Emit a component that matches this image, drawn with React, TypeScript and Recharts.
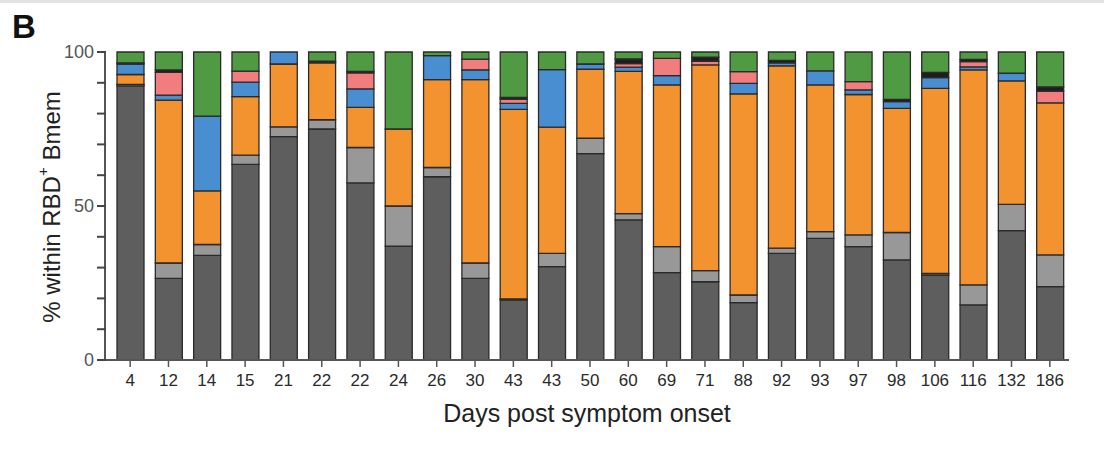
import React from 'react';
import { BarChart, Bar, XAxis, YAxis } from 'recharts';

const days = ['4','12','14','15','21','22','22','24','26','30','43','43','50','60','69','71','88','92','93','97','98','106','116','132','186'];
const darkGray = [89, 26.5, 34, 63.5, 72.5, 75, 57.5, 37, 59.5, 26.5, 19.5, 30.3, 67, 45.5, 28.4, 25.4, 18.6, 34.6, 39.5, 36.8, 32.5, 27.6, 17.9, 42, 23.8];
const lightGray = [0.5, 5, 3.5, 3, 3.2, 3, 11.5, 13, 3, 5, 0.3, 4.3, 5, 2, 8.4, 3.6, 2.5, 1.7, 2.2, 3.8, 8.9, 0.5, 6.5, 8.5, 10.3];
const orange = [3.2, 52.9, 17.4, 19, 20.4, 18.5, 13, 25, 28.5, 59.5, 61.6, 41, 22.4, 46.2, 52.5, 66.8, 65.3, 59.2, 47.6, 45.6, 40.3, 60.1, 69.8, 40.1, 49.4];
const blue = [3.4, 1.6, 24.3, 4.7, 3.9, 0, 6, 0, 7.8, 3.2, 1.9, 18.7, 1.7, 1.4, 3, 0, 3.4, 1, 4.6, 1.5, 2.2, 3.5, 1, 2.5, 0];
const red = [0, 7.4, 0, 3.6, 0, 0, 5.2, 0, 0, 3.5, 1.4, 0, 0, 1.1, 5.6, 1.2, 3.8, 0, 0, 2.7, 0, 0, 1.7, 0, 3.8];
const black = [0.4, 0.8, 0, 0, 0, 0.5, 0.5, 0, 0, 0, 0.6, 0, 0, 1.6, 0, 1.3, 0, 0.8, 0, 0, 0.7, 1.7, 0.7, 0, 1.4];
const green = [3.5, 5.8, 20.8, 6.2, 0, 3, 6.3, 25, 1.2, 2.3, 14.7, 5.7, 3.9, 2.2, 2.1, 1.7, 6.4, 2.7, 6.1, 9.6, 15.4, 6.6, 2.4, 6.9, 11.3];
const yTicks = [0, 10, 20, 30, 40, 50, 60, 70, 80, 90, 100];
const yLabels = [0, 50, 100];

const data = days.map((d, i) => ({
  id: 'c' + i,
  day: d,
  darkGray: darkGray[i],
  lightGray: lightGray[i],
  orange: orange[i],
  blue: blue[i],
  red: red[i],
  black: black[i],
  green: green[i],
}));

const series = [
  { key: 'darkGray', color: '#5e5e5e' },
  { key: 'lightGray', color: '#989898' },
  { key: 'orange', color: '#f39330' },
  { key: 'blue', color: '#4a8ed2' },
  { key: 'red', color: '#f27d7f' },
  { key: 'black', color: '#1e1e1e' },
  { key: 'green', color: '#4f9a43' },
];

const FONT = "'Liberation Sans', Arial, sans-serif";

const YTick = (props: any) => {
  const { x, y, payload } = props;
  const v = Number(payload.value);
  return (
    <g>
      <path d={`M${x + 1},${y}H${x + 10}`} stroke="#444" strokeWidth={2} fill="none" />
      {yLabels.includes(v) ? (
        <text x={x - 2} y={y} textAnchor="end" dominantBaseline="central" fill="#555" fontSize={18} fontFamily={FONT}>
          {v}
        </text>
      ) : null}
    </g>
  );
};

export default function App() {
  return (
    <div style={{ position: 'absolute', left: 0, top: 0, width: 1104, height: 450, background: '#fff', fontFamily: FONT }}>
      <div style={{ position: 'absolute', left: 0, top: 0, width: 1104, height: 3, background: '#e2e2e2' }} />
      <div style={{ position: 'absolute', left: 12, top: 8, fontSize: 33, fontWeight: 'bold', fontFamily: FONT, color: '#111' }}>B</div>
      <BarChart
        width={1104}
        height={450}
        data={data}
        margin={{ top: 52, right: 35, bottom: 60, left: 45 }}
        barSize={27}
      >
        <XAxis
          dataKey="id"
          height={30}
          tickFormatter={(v: string, i: number) => days[i]}
          interval={0}
          padding={{ left: 6, right: 0 }}
          axisLine={{ stroke: '#555', strokeWidth: 2 }}
          tickLine={{ stroke: '#555', strokeWidth: 1.5 }}
          tickSize={7}
          tickMargin={7}
          tick={{ fill: '#2a2a2a', fontSize: 17, fontFamily: FONT }}
          label={{
            content: () => (
              <text x={587} y={413} textAnchor="middle" dominantBaseline="central" fill="#222" fontSize={25} fontFamily={FONT}>
                Days post symptom onset
              </text>
            ),
          }}
        />
        <YAxis
          type="number"
          width={60}
          domain={[0, 100]}
          ticks={yTicks}
          interval={0}
          axisLine={{ stroke: '#555', strokeWidth: 2 }}
          tickLine={false}
          tickSize={0}
          tickMargin={9}
          tick={<YTick />}
          label={{
            content: () => (
              <text transform="rotate(-90, 51, 207)" x={51} y={207} textAnchor="middle" dominantBaseline="central" fill="#222" fontSize={24} fontFamily={FONT}>
                % within RBD
                <tspan baselineShift="super" fontSize={15}>+</tspan>
                <tspan> Bmem</tspan>
              </text>
            ),
          }}
        />
        {series.map((s) => (
          <Bar
            key={s.key}
            dataKey={s.key}
            stackId="a"
            fill={s.color}
            stroke="#2a2a2a"
            strokeWidth={1.3}
            isAnimationActive={false}
          />
        ))}
      </BarChart>
    </div>
  );
}
